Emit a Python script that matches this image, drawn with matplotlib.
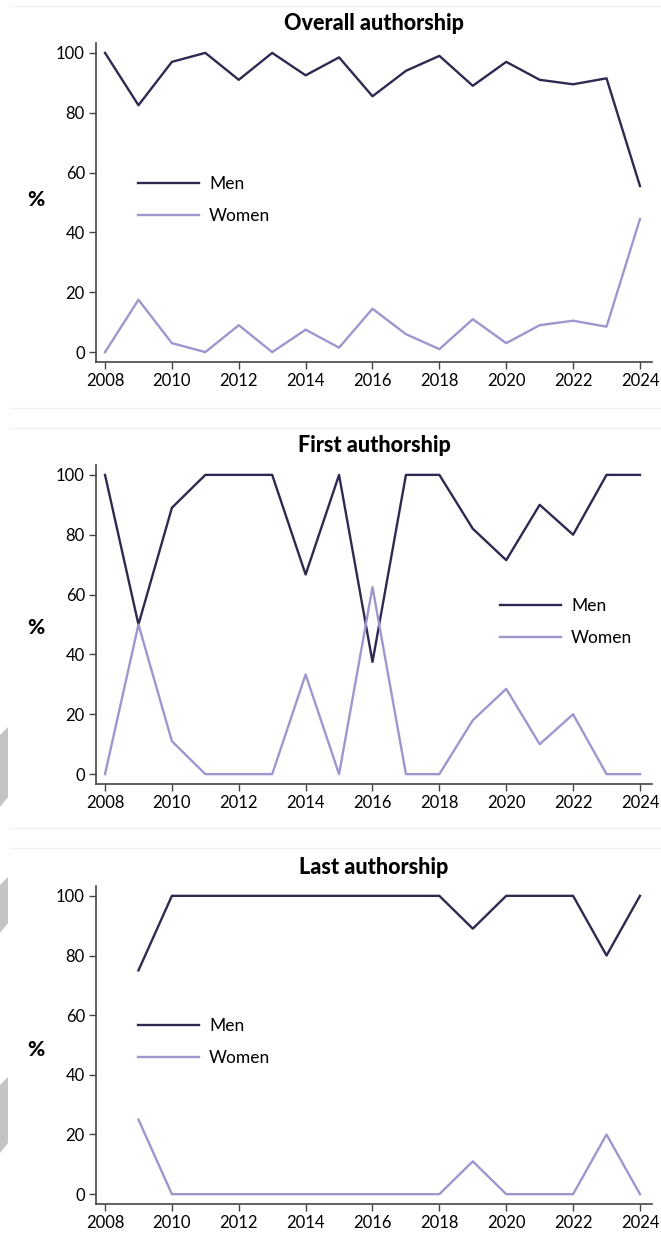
import matplotlib.pyplot as plt
from matplotlib.patches import Polygon
from matplotlib.lines import Line2D

plt.rcParams['font.family'] = ['Lato', 'DejaVu Sans']

years = list(range(2008, 2025))

overall_men = [100, 82.5, 97, 100, 91, 100, 92.5, 98.5, 85.5, 94, 99, 89, 97, 91, 89.5, 91.5, 55.5]
overall_women = [0, 17.5, 3, 0, 9, 0, 7.5, 1.5, 14.5, 6, 1, 11, 3, 9, 10.5, 8.5, 44.5]

first_men = [100, 50, 89, 100, 100, 100, 66.7, 100, 37.5, 100, 100, 82, 71.5, 90, 80, 100, 100]
first_women = [0, 50, 11, 0, 0, 0, 33.3, 0, 62.5, 0, 0, 18, 28.5, 10, 20, 0, 0]

# no data for 2008 in last authorship
last_years = list(range(2009, 2025))
last_men = [75, 100, 100, 100, 100, 100, 100, 100, 100, 100, 89, 100, 100, 100, 80, 100]
last_women = [25, 0, 0, 0, 0, 0, 0, 0, 0, 0, 11, 0, 0, 0, 20, 0]

titles = ["Overall authorship", "First authorship", "Last authorship"]
men_color = "#2f2952"
women_color = "#9c98cf"

W, H = 661, 1236
fig = plt.figure(figsize=(W / 100, H / 100), dpi=100)

# axes boxes in pixels: (top of spine, bottom of spine)
boxes = [(43, 362), (465, 784), (886, 1204)]
# legend upper-left corner in pixels
legend_spots = [(138, 176), (500, 598), (138, 1018)]
pct_y = [200, 628, 1050]
data = [(years, overall_men, overall_women),
        (years, first_men, first_women),
        (last_years, last_men, last_women)]

for i in range(3):
    top, bot = boxes[i]
    ax = fig.add_axes([96 / W, 1 - bot / H, (652 - 96) / W, (bot - top) / H])
    x, m, w = data[i]
    ax.plot(x, m, color=men_color, lw=1.7, label="Men")
    ax.plot(x, w, color=women_color, lw=1.7, label="Women")
    ax.set_xlim(2007.73, 2024.36)
    ax.set_ylim(-3.3, 103.3)
    ax.set_xticks(range(2008, 2025, 2))
    ax.set_yticks(range(0, 101, 20))
    for s in ["top", "right"]:
        ax.spines[s].set_visible(False)
    for s in ["left", "bottom"]:
        ax.spines[s].set_color("#444444")
        ax.spines[s].set_linewidth(1.2)
    ax.tick_params(axis="both", length=5, width=1, color="#444444", labelsize=12, pad=3)
    ax.set_title(titles[i], fontsize=15.5, fontweight="black", pad=9)
    fig.text(36 / W, 1 - pct_y[i] / H, "%", fontsize=15, fontweight="black",
             ha="center", va="center")
    lx, ly = legend_spots[i]
    ax.legend(loc="upper left", bbox_to_anchor=(lx / W, 1 - ly / H),
              bbox_transform=fig.transFigure, frameon=False, fontsize=12.5,
              borderpad=0, borderaxespad=0,
              handlelength=3.5, handletextpad=0.6, labelspacing=0.9)

# faint separators between panels (kept behind the titles)
for y in [6, 408, 428, 828, 848]:
    fig.add_artist(Line2D([10 / W, 1], [1 - y / H, 1 - y / H], color="#f2f2f2", lw=1,
                          zorder=-1))

# grey shapes at the left edge
for y0, h in [(727, 80), (877, 56), (1077, 76)]:
    pts = [(0, 1 - (y0 + 8) / H), (8 / W, 1 - y0 / H), (8 / W, 1 - (y0 + h - 10) / H),
           (0, 1 - (y0 + h) / H)]
    fig.add_artist(Polygon(pts, closed=True, facecolor="#c4c4c4", edgecolor="none",
                           transform=fig.transFigure))

fig.savefig("out.png", dpi=100)
